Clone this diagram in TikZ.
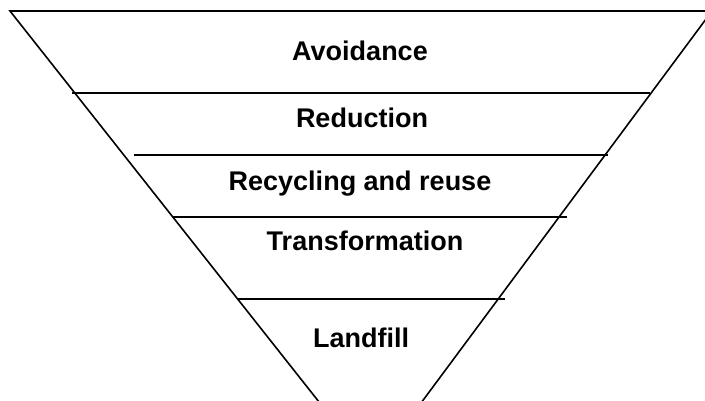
\documentclass[tikz,border=0pt]{standalone}
\usepackage{fontspec}
\setmainfont{Liberation Sans}
\begin{document}
\begin{tikzpicture}[x=1pt,y=-1pt,
  edge/.style={line width=1.6pt,black},
  level/.style={anchor=base,font=\fontsize{27}{31}\selectfont\bfseries,inner sep=0pt}]
\useasboundingbox (0,0) rectangle (705,400);
\clip (0,0) rectangle (705,400);
\coordinate (tl) at (10,11);
\coordinate (tr) at (712,11);
\coordinate (apex) at (372,469);
\draw[edge, line join=miter] (tr) -- (tl) -- (apex) -- cycle;
\draw[edge] (72,93) -- (650,93);
\draw[edge] (134,155) -- (608,155);
\draw[edge] (173,217) -- (567,217);
\draw[edge] (238,299) -- (505,299);
\node[level] (avoid) at (360,60) {Avoidance};
\node[level] (reduce) at (362,127) {Reduction};
\node[level] (recycle) at (360,190) {Recycling and reuse};
\node[level] (transform) at (365,250) {Transformation};
\node[level] (landfill) at (361,347) {Landfill};
\end{tikzpicture}
\end{document}
